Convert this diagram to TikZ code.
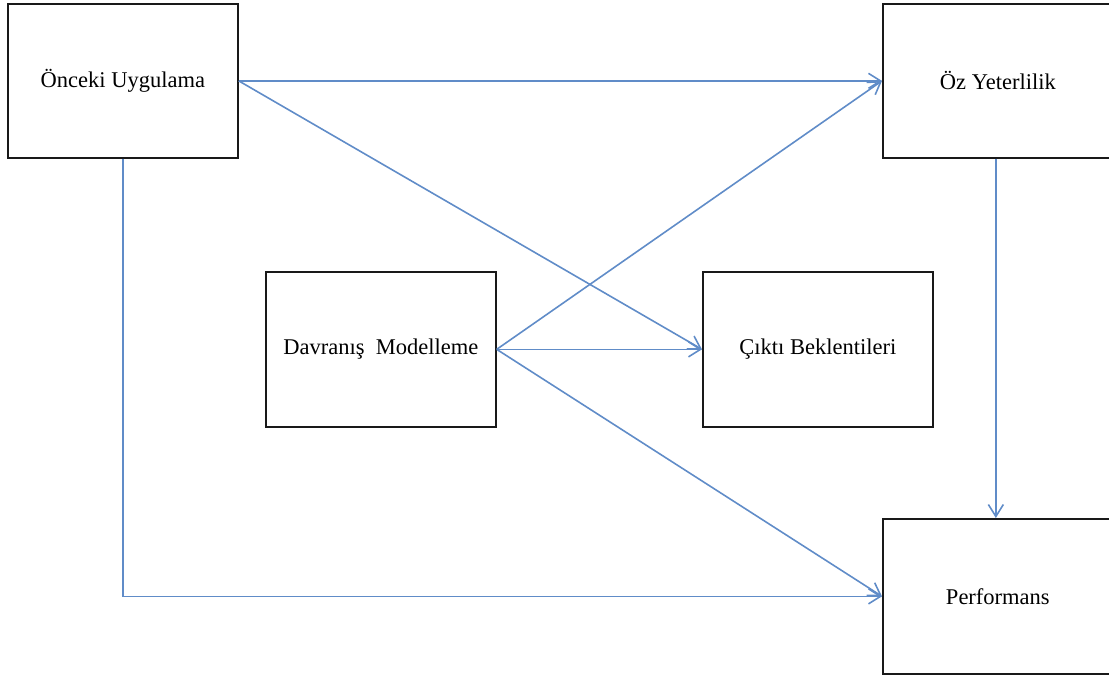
\documentclass[tikz,border=0pt]{standalone}
\usepackage{fontspec}
\setmainfont{Liberation Serif}
\usetikzlibrary{arrows.meta}
\definecolor{linkblue}{RGB}{96,140,200}
\begin{document}
\begin{tikzpicture}[x=1pt,y=-1pt,
  box/.style={draw=black!90, line width=1.7pt, minimum width=230pt,
    minimum height=154pt, inner sep=0pt, anchor=north west,
    font=\fontsize{22.5}{27}\selectfont},
  link/.style={draw=linkblue, line width=1.6pt,
    -{Straight Barb[length=12pt,width=15pt,line width=1.6pt]}}]
\clip (0,0) rectangle (1109,677);
\useasboundingbox (0,0) rectangle (1109,677);

% boxes
\node[box] (pre)  at (7,3)     {Önceki Uygulama};
\node[box] (oz)   at (882,3)   {Öz Yeterlilik};
\node[box, minimum height=155pt] (dav)  at (265,271) {Davranış\ \ Modelleme};
\node[box, minimum height=155pt] (cik)  at (702,271) {Çıktı Beklentileri};
\node[box, minimum height=155pt] (perf) at (882,518) {Performans};

% connectors
\draw[link] (pre.east) -- (oz.west);
\draw[link] (pre.east) -- (cik.west);
\draw[link] (pre.south) |- (perf.west);
\draw[link] (dav.east) -- (oz.west);
\draw[link] (dav.east) -- (cik.west);
\draw[link] (dav.east) -- (perf.west);
\draw[link] ([xshift=-2pt]oz.south) -- ([xshift=-2pt]perf.north);
\end{tikzpicture}
\end{document}
